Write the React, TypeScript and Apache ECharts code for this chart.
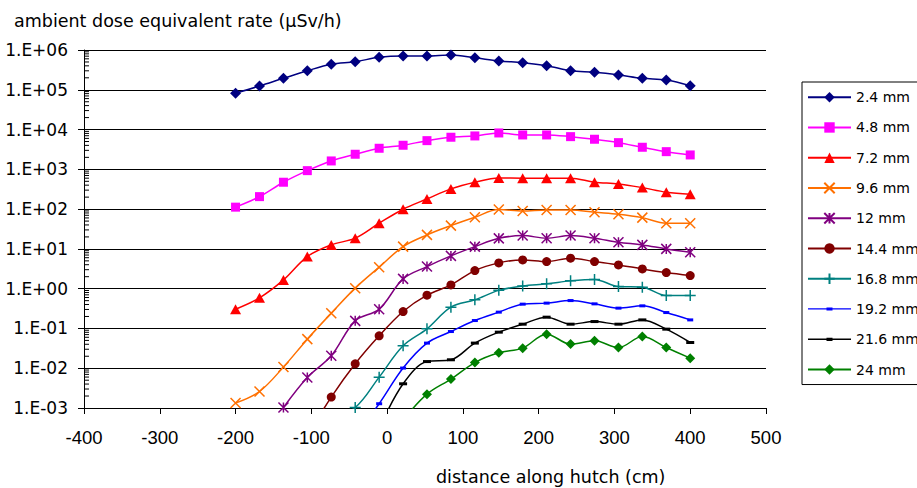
import React, { useEffect, useRef } from 'react';
import * as echarts from 'echarts';

// Measurement positions along the hutch (cm)
const xPositions = [-200, -168.4, -136.8, -105.3, -73.7, -42.1, -10.5, 21.1, 52.6, 84.2, 115.8, 147.4, 178.9, 210.5, 242.1, 273.7, 305.3, 336.8, 368.4, 400];

const seriesNames = ['2.4 mm', '4.8 mm', '7.2 mm', '9.6 mm', '12 mm', '14.4 mm', '16.8 mm', '19.2 mm', '21.6 mm', '24 mm'];

// Ambient dose equivalent rate (µSv/h) per shielding thickness
const rate2_4 = [82000, 124000, 194000, 300000, 437000, 508000, 656000, 706000, 706000, 748000, 641000, 530000, 480000, 403000, 302000, 275000, 236000, 194000, 176000, 127000];
const rate4_8 = [112, 206, 474, 927, 1625, 2395, 3386, 4031, 5264, 6409, 6910, 8215, 7318, 7318, 6634, 5706, 4689, 3589, 2783, 2300];
const rate7_2 = [0.305, 0.587, 1.66, 6.41, 12.6, 18.6, 44.2, 99.4, 180, 322, 474, 608, 598, 598, 598, 474, 430, 347, 266, 237];
const rate9_6 = [0.00133, 0.0026, 0.0107, 0.0538, 0.242, 1.03, 3.47, 11.4, 22.5, 38.5, 62.5, 97.7, 90.1, 95.5, 95.5, 83.6, 74.5, 61.1, 44.2, 44.2];
const rate12 = [null, null, 0.00103, 0.00583, 0.0205, 0.155, 0.305, 1.76, 3.59, 6.67, 11.4, 18.4, 21.6, 18.6, 21.6, 18.6, 14.7, 12.6, 10.0, 8.26];
const rate14_4 = [null, null, null, 0.0002, 0.00188, 0.0129, 0.0652, 0.266, 0.687, 1.24, 2.85, 4.45, 5.29, 4.8, 5.84, 4.8, 3.96, 3.14, 2.54, 2.13];
const rate16_8 = [null, null, null, null, 0.0006, 0.00103, 0.00597, 0.0366, 0.0977, 0.343, 0.524, 0.906, 1.17, 1.32, 1.57, 1.71, 1.13, 1.09, 0.671, 0.671];
const rate19_2 = [null, null, null, null, null, 0.0002, 0.00128, 0.0101, 0.0428, 0.0836, 0.158, 0.257, 0.408, 0.433, 0.502, 0.415, 0.324, 0.37, 0.251, 0.164];
const rate21_6 = [null, null, null, null, null, null, 0.0003, 0.00406, 0.0147, 0.0163, 0.0428, 0.0807, 0.128, 0.192, 0.128, 0.149, 0.128, 0.164, 0.096, 0.0443];
const rate24 = [null, null, null, null, null, null, null, 0.0005, 0.00223, 0.00532, 0.0139, 0.0244, 0.032, 0.0719, 0.0404, 0.0488, 0.0331, 0.0625, 0.0331, 0.0179];

const allRates = [rate2_4, rate4_8, rate7_2, rate9_6, rate12, rate14_4, rate16_8, rate19_2, rate21_6, rate24];

// Axis tick labels
const yTickLabels = ['1.E-03', '1.E-02', '1.E-01', '1.E+00', '1.E+01', '1.E+02', '1.E+03', '1.E+04', '1.E+05', '1.E+06'];
const yMinExponent = -3;
const minorMultipliers = [2, 3, 4, 5, 6, 7, 8, 9];

const X_PATH = 'path://M0,0L10,10M10,0L0,10';
const STAR_PATH = 'path://M0,0L10,10M10,0L0,10M5,0L5,10';
const PLUS_PATH = 'path://M5,0L5,10M0,5L10,5';
const DASH_ICON = 'path://M0,5.9h43v1.3H0z M18.5,5h6v3.2h-6z';

const styles = [
  { color: '#000080', symbol: 'diamond', size: 11, stroke: false },
  { color: '#FF00FF', symbol: 'rect', size: 9, stroke: false },
  { color: '#FF0000', symbol: 'triangle', size: [11, 10], stroke: false },
  { color: '#FF7000', symbol: X_PATH, size: 10, stroke: true },
  { color: '#800080', symbol: STAR_PATH, size: 10, stroke: true },
  { color: '#800000', symbol: 'circle', size: 9, stroke: false },
  { color: '#008080', symbol: PLUS_PATH, size: 11, stroke: true },
  { color: '#0000FF', symbol: 'rect', size: [6, 3], stroke: false, dash: true },
  { color: '#000000', symbol: 'rect', size: [8, 3], stroke: false, dash: true },
  { color: '#008000', symbol: 'diamond', size: 10, stroke: false },
];

const FONT = 'DejaVu Sans';

export default function App() {
  const ref = useRef<HTMLDivElement>(null);
  useEffect(() => {
    const chart = echarts.init(ref.current!, null, { renderer: 'svg' });

    const lineSeries = seriesNames.map((name, i) => {
      const st = styles[i];
      return {
        name,
        type: 'line',
        smooth: 0.35,
        clip: true,
        symbol: st.symbol,
        symbolSize: st.size,
        showAllSymbol: true,
        connectNulls: false,
        lineStyle: { color: st.color, width: 1.5 },
        itemStyle: st.stroke
          ? { color: st.color, borderColor: st.color, borderWidth: 1.5 }
          : { color: st.color, borderWidth: 0 },
        emphasis: { disabled: true },
        data: xPositions.map((x, j) => [x, allRates[i][j]]),
        z: 3 + (seriesNames.length - i),
      };
    });

    const minorData: number[][] = [];
    for (let e = yMinExponent; e < yMinExponent + yTickLabels.length - 1; e++) {
      minorMultipliers.forEach((m) => minorData.push([-400, m * Math.pow(10, e)]));
    }

    const option = {
      animation: false,
      backgroundColor: '#ffffff',
      textStyle: { fontFamily: FONT, color: '#000' },
      title: [
        {
          text: 'ambient dose equivalent rate (µSv/h)',
          left: 14,
          top: 11,
          padding: 0,
          textStyle: { fontFamily: FONT, fontSize: 17.5, fontWeight: 'normal', color: '#000', lineHeight: 20 },
        },
        {
          text: 'distance along hutch (cm)',
          left: 436,
          top: 467,
          padding: 0,
          textStyle: { fontFamily: FONT, fontSize: 17.5, fontWeight: 'normal', color: '#000', lineHeight: 20 },
        },
      ],
      grid: { left: 84, right: 151, top: 50, bottom: 80, containLabel: false, outerBoundsMode: 'none' },
      legend: {
        orient: 'vertical',
        left: 802,
        top: 82,
        padding: [8.2, 5, 8, 5],
        itemWidth: 43,
        itemHeight: 13,
        itemGap: 16.26,
        borderColor: '#000',
        borderWidth: 1,
        backgroundColor: '#fff',
        selectedMode: false,
        textStyle: { fontFamily: FONT, fontSize: 14, color: '#000' },
        data: seriesNames.map((name, i) => (styles[i].dash ? { name, icon: DASH_ICON } : { name })),
      },
      xAxis: {
        type: 'value',
        min: -400,
        max: 500,
        interval: 100,
        axisLine: { show: true, onZero: false, lineStyle: { color: '#000', width: 1 } },
        axisTick: { show: true, length: 6, inside: false, lineStyle: { color: '#000' } },
        axisLabel: {
          show: true,
          margin: 20,
          fontFamily: 'Liberation Sans',
          fontSize: 18.5,
          color: '#000',
          showMinLabel: true,
          showMaxLabel: true,
        },
        splitLine: { show: false },
      },
      yAxis: {
        type: 'log',
        logBase: 10,
        min: 0.001,
        max: 1000000,
        interval: 1,
        splitNumber: 9,
        axisLine: { show: true, onZero: false, lineStyle: { color: '#000', width: 1 } },
        axisTick: { show: true, length: 6, inside: false, lineStyle: { color: '#000' } },
        axisLabel: {
          show: true,
          margin: 16,
          fontFamily: FONT,
          fontSize: 17,
          color: '#000',
          showMinLabel: true,
          showMaxLabel: true,
          formatter: (v: number) => {
            const e = Math.round(Math.log10(v));
            return yTickLabels[e - yMinExponent] ?? '';
          },
        },
        splitLine: { show: true, lineStyle: { color: '#000', width: 1 } },
        minorTick: { show: false },
      },
      series: [
        ...lineSeries,
        {
          name: 'minorTicks',
          type: 'custom',
          silent: true,
          clip: false,
          z: 2,
          data: minorData,
          renderItem: (params: any, api: any) => {
            const p = api.coord([api.value(0), api.value(1)]);
            return {
              type: 'line',
              shape: { x1: p[0], y1: p[1], x2: p[0] + 5, y2: p[1] },
              style: { stroke: '#000', lineWidth: 1 },
            };
          },
        },
      ],
    };

    chart.setOption(option as any);
    return () => chart.dispose();
  }, []);

  return <div ref={ref} style={{ position: 'absolute', left: 0, top: 0, width: 917, height: 488 }} />;
}
